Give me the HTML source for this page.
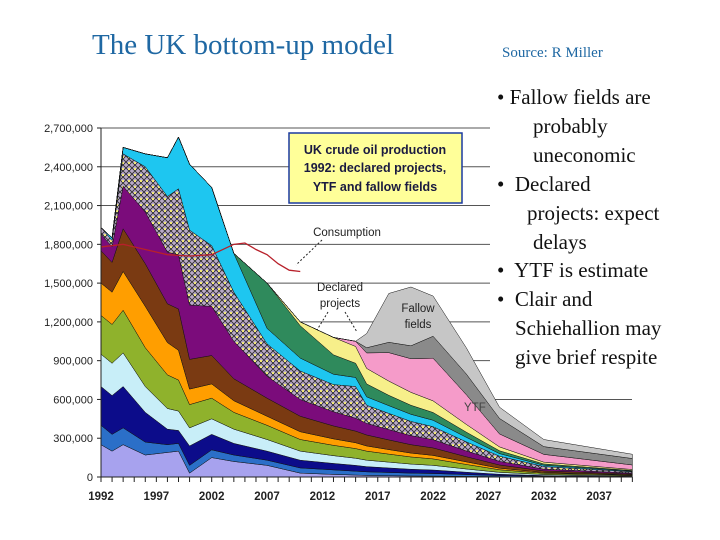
<!DOCTYPE html>
<html><head><meta charset="utf-8"><style>
body{margin:0;background:#fff;width:720px;height:540px;overflow:hidden;position:relative;font-family:"Liberation Serif",serif}
.t{position:absolute;white-space:nowrap}
.b{font-size:21px;color:#111}
</style></head><body>
<div class="t" style="left:92px;top:29px;font-size:29px;color:#1f68a3">The UK bottom-up model</div>
<div class="t" style="left:502px;top:45px;font-size:15px;color:#1f68a3">Source: R Miller</div>
<svg id="chart" width="720" height="540" style="position:absolute;left:0;top:0"></svg>
<div class="t b" style="left:497px;top:85px">• Fallow fields are</div>
<div class="t b" style="left:533px;top:114px">probably</div>
<div class="t b" style="left:533px;top:143px">uneconomic</div>
<div class="t b" style="left:497px;top:172px">•&nbsp; Declared</div>
<div class="t b" style="left:527px;top:201px">projects: expect</div>
<div class="t b" style="left:533px;top:230px">delays</div>
<div class="t b" style="left:497px;top:258px">•&nbsp; YTF is estimate</div>
<div class="t b" style="left:497px;top:287px">•&nbsp; Clair and</div>
<div class="t b" style="left:515px;top:316px">Schiehallion may</div>
<div class="t b" style="left:515px;top:345px">give brief respite</div>
<script>
const years=[1992,1993,1994,1996,1998,1999,2000,2002,2004,2007,2010,2013,2015,2016,2018,2020,2022,2025,2028,2032,2040];
const sBase=[250,200,250,170,190,200,30,150,120,90,30,20,15,12,10,8,7,5,3,2,1];
const sBlue=[150,130,130,100,60,60,60,60,50,40,40,35,30,28,25,22,20,14,8,4,2];
const sNavy=[300,300,320,230,120,100,150,120,90,70,60,50,45,40,35,30,27,18,10,5,2];
const sPale=[250,250,260,200,160,150,140,120,110,90,70,60,55,50,45,40,36,25,15,8,4];
const sOlive=[300,300,330,300,260,240,180,160,130,110,90,80,75,70,62,55,50,35,20,10,5];
const sOrange=[250,250,300,320,250,230,120,110,90,70,60,50,45,40,35,30,27,20,12,6,3];
const sBrown=[250,230,330,330,300,320,230,220,170,140,120,100,90,85,75,65,58,40,25,12,6];
const sPurple=[130,120,330,400,400,420,420,380,290,170,130,110,100,90,80,70,64,45,28,14,7];
const sHatch=[50,50,250,350,430,510,580,470,380,250,220,210,245,140,125,110,100,70,40,20,10];
const sCyan=[0,20,50,100,300,400,510,450,300,120,100,80,70,65,60,55,50,35,20,10,5];
const sGreen=[0,0,0,0,0,0,0,0,0,350,250,150,110,100,80,70,60,40,22,10,5];
const sDeclared=[0,0,0,0,0,0,0,0,0,0,30,135,130,120,110,100,90,60,30,14,8];
const sYtf=[0,0,0,0,0,0,0,0,0,0,0,0,40,120,220,260,330,230,100,60,35];
const sYtf2=[0,0,0,0,0,0,0,0,0,0,0,0,0,40,80,100,170,160,120,60,50];
const sFallow=[0,0,0,0,0,0,0,0,0,0,0,0,0,110,378,455,311,203,87,55,33];
const consYears=[1992,1994,1996,1998,2000,2002,2004,2005,2006,2007,2008,2009,2010];
const consVals=[1780,1800,1760,1720,1710,1720,1800,1810,1760,1720,1650,1600,1590];
const yTicks=[0,300000,600000,900000,1200000,1500000,1800000,2100000,2400000,2700000];
const xTicks=[1992,1997,2002,2007,2012,2017,2022,2027,2032,2037];

const series=[sBase,sBlue,sNavy,sPale,sOlive,sOrange,sBrown,sPurple,sHatch,sCyan,sGreen,sDeclared,sYtf,sYtf2,sFallow];
const colors=['#a7a2ee','#2b6fc8','#0c0c8a','#c8eef8','#8fb22c','#ff9e00','#7a3a12','#7b0c7b','url(#hatch)','#1ec6f0','#2f8a5c','#f7ef8a','#f59bc9','#8a8a8a','#c6c6c6'];
const names=['base-fields','blue-fields','navy-fields','pale-fields','olive-fields','orange-fields','brown-fields','purple-fields','hatched-fields','cyan-fields','green-fields','declared-projects','ytf-pink','ytf-gray','fallow-fields'];

const NS='http://www.w3.org/2000/svg';
const svg=document.getElementById('chart');
const X=y=>101+(y-1992)*11.07;
const Y=v=>477-v/2700000*349;
function mk(t,a){const e=document.createElementNS(NS,t);for(const k in a)e.setAttribute(k,a[k]);return e;}
svg.innerHTML='<defs><pattern id="hatch" width="6" height="6" patternUnits="userSpaceOnUse"><rect width="6" height="6" fill="#b9a9c9"/><path d="M0,6L6,0M0,0L6,6" stroke="#2a2a2a" stroke-width="0.8"/><rect x="2" y="0" width="2" height="2" fill="#f2e87a"/></pattern></defs>';
yTicks.forEach(v=>{if(v===0)return;
 const g=mk('line',{x1:101,x2:(v===600000?632:490),y1:Y(v),y2:Y(v),stroke:'#555','stroke-width':1});
 
 
 svg.appendChild(g);});
let base=years.map(()=>0);
series.forEach((s,i)=>{
 const top=base.map((b,j)=>b+s[j]*1000);
 let d='M'+years.map((y,j)=>X(y)+','+Y(top[j])).join('L');
 for(let j=years.length-1;j>=0;j--)d+='L'+X(years[j])+','+Y(base[j]);
 const p=mk('path',{d:d+'Z',fill:colors[i],stroke:'#111','stroke-width':0.5});
 
 
 svg.appendChild(p);
 base=top;});
const cl=mk('polyline',{points:consYears.map((y,j)=>X(y)+','+Y(consVals[j]*1000)).join(' '),fill:'none',stroke:'#b8202a','stroke-width':1.3});


svg.appendChild(cl);
const ax=mk('path',{d:'M101,128V477H632',stroke:'#222',fill:'none','stroke-width':1});


svg.appendChild(ax);
yTicks.forEach(v=>{
 const tx=mk('text',{x:93,y:Y(v)+4,'text-anchor':'end','font-size':11,'font-family':'Liberation Sans,sans-serif',fill:'#222'});
 tx.textContent=v.toLocaleString('en-US');
 
 
 svg.appendChild(tx);
 svg.appendChild(mk('line',{x1:97,x2:101,y1:Y(v),y2:Y(v),stroke:'#222'}));});
for(let y=1992;y<=2040;y++)svg.appendChild(mk('line',{x1:X(y),x2:X(y),y1:477,y2:482,stroke:'#222'}));
xTicks.forEach(y=>{
 const tx=mk('text',{x:X(y),y:500,'text-anchor':'middle','font-size':11.5,'font-weight':'bold','font-family':'Liberation Sans,sans-serif',fill:'#222'});
 tx.textContent=y;
 
 
 svg.appendChild(tx);});
const box=mk('rect',{x:289,y:133,width:173,height:70,fill:'#ffff99',stroke:'#1a3aa0','stroke-width':1.5});


svg.appendChild(box);
[['UK crude oil production',154],['1992: declared projects,',172],['YTF and fallow fields',191]].forEach(a=>{
 const tx=mk('text',{x:375,y:a[1],'text-anchor':'middle','font-size':12.5,'font-weight':'bold','font-family':'Liberation Sans,sans-serif',fill:'#1a1a40'});
 tx.textContent=a[0];
 
 
 svg.appendChild(tx);});
[['Consumption',347,236],['Declared',340,291],['projects',340,307],['Fallow',418,312],['fields',418,328]].forEach(a=>{
 const tx=mk('text',{x:a[1],y:a[2],'text-anchor':'middle','font-size':11.5,'font-family':'Liberation Sans,sans-serif',fill:'#222'});
 tx.textContent=a[0];
 
 
 svg.appendChild(tx);});
const yl=mk('text',{x:464,y:411,'font-size':11.5,'font-family':'Liberation Sans,sans-serif',fill:'#444'});
yl.textContent='YTF';


svg.appendChild(yl);
[[322,240,296,265],[328,312,317,330],[345,312,357,332]].forEach(a=>{
 const l=mk('line',{x1:a[0],y1:a[1],x2:a[2],y2:a[3],stroke:'#222','stroke-dasharray':'2,2'});
 
 
 svg.appendChild(l);});
</script>
</body></html>
